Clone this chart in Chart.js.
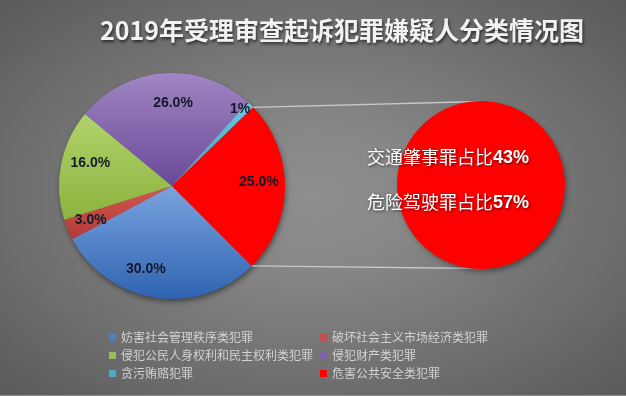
<!DOCTYPE html>
<html><head><meta charset="utf-8">
<script src="https://cdn.jsdelivr.net/npm/chart.js@4.4.1/dist/chart.umd.min.js"></script>
<style>
html,body{margin:0;padding:0;background:#5a5a5a;}
#wrap{position:relative;width:626px;height:396px;overflow:hidden;background:radial-gradient(ellipse farthest-corner at 50% 50%, #8e8e8e 0%, #878787 25%, #5a5a5a 100%);}
#bline{position:absolute;left:0;right:0;bottom:0;height:1px;background:#8c8c8c;}
canvas{position:absolute;left:0;top:0;}
#title{position:absolute;left:342px;top:11px;transform:translateX(-50%);white-space:nowrap;font:bold 25px "Noto Sans CJK SC";color:#f2f2f2;text-shadow:1px 2px 3px rgba(0,0,0,.6);}
.lb{position:absolute;width:7px;height:7px;}
.lt{position:absolute;font:12px "Noto Sans CJK SC";color:#d2d2d2;white-space:nowrap;line-height:14px;}
</style></head>
<body>
<div id="wrap">
  <canvas id="c1" width="626" height="396"></canvas>
  <canvas id="c2" width="626" height="396"></canvas>
  <div id="title"></div>
  <div id="legend"></div>
  <div id="bline"></div>
</div>
<script>
// ---- data ----
const titleText = '2019年受理审查起诉犯罪嫌疑人分类情况图';
const categories = ['妨害社会管理秩序类犯罪','破坏社会主义市场经济类犯罪','侵犯公民人身权利和民主权利类犯罪','侵犯财产类犯罪','贪污贿赂犯罪','危害公共安全类犯罪'];
const shares = [30, 3, 16, 26, 1, 25];
const shareLabels = ['30.0%','3.0%','16.0%','26.0%','1%','25.0%'];
const subCategories = ['交通肇事罪','危险驾驶罪'];
const subShares = [43, 57];
const subPrefix = '占比';

// ---- styles ----
const sliceTop    = ['#7aa4de','#d4574f','#b2d26c','#a086c4','#6ec8e1','#ff0000'];
const sliceBottom = ['#2f63b2','#b23a36','#8cb33e','#6a4897','#3aa2c3','#ff0000'];
const legendColors = ['#4f81bd','#c0504d','#9bbb59','#8064a2','#4bacc6','#ff0000'];
const labelShift = [9, 0, 4.5, 4.7, -2.7, -3];
const labelRadius = [0.77, 0.78, 0.75, 0.73, 0.91, 0.77];
const ROT = 135;

document.getElementById('title').textContent = titleText;

// legend (2 columns)
const lg = document.getElementById('legend');
const colX = [109, 320], rowY = [337, 355, 373];
categories.forEach((name, i) => {
  const col = i % 2, row = Math.floor(i / 2);
  const b = document.createElement('div'); b.className = 'lb';
  b.style.left = colX[col] + 'px'; b.style.top = (rowY[row] - 3.5) + 'px';
  b.style.background = legendColors[i];
  const t = document.createElement('div'); t.className = 'lt';
  t.style.left = (colX[col] + 12) + 'px'; t.style.top = (rowY[row] - 7.5) + 'px';
  t.textContent = name;
  lg.appendChild(b); lg.appendChild(t);
});

function sliceFill(c) {
  const chart = c.chart, a = chart.chartArea, i = c.dataIndex;
  if (!a) return sliceBottom[i];
  const cx = (a.left + a.right) / 2, cy = (a.top + a.bottom) / 2, r = Math.min(a.width, a.height) / 2;
  const data = chart.data.datasets[0].data;
  const total = data.reduce((s, v) => s + v, 0);
  let start = (ROT - 90) * Math.PI / 180;
  for (let k = 0; k < i; k++) start += data[k] / total * 2 * Math.PI;
  const end = start + data[i] / total * 2 * Math.PI;
  let minY = cy, maxY = cy;
  for (let t = 0; t <= 60; t++) {
    const ang = start + (end - start) * t / 60;
    const y = cy + r * Math.sin(ang);
    minY = Math.min(minY, y); maxY = Math.max(maxY, y);
  }
  if (maxY - minY < 1) maxY = minY + 1;
  const g = chart.ctx.createLinearGradient(0, minY, 0, maxY);
  g.addColorStop(0, sliceTop[i]); g.addColorStop(1, sliceBottom[i]);
  return g;
}

const pieShadow = {
  id: 'pieShadow',
  beforeDatasetsDraw(chart) {
    const arc = chart.getDatasetMeta(0).data[0];
    const ctx = chart.ctx;
    ctx.save();
    ctx.shadowColor = 'rgba(0,0,0,0.55)'; ctx.shadowBlur = 6; ctx.shadowOffsetY = 3; ctx.shadowOffsetX = 1;
    ctx.fillStyle = '#666';
    ctx.beginPath(); ctx.arc(arc.x, arc.y, arc.outerRadius - 1, 0, 2 * Math.PI); ctx.fill();
    ctx.restore();
  }
};
const pieLabels = {
  id: 'pieLabels',
  afterDatasetsDraw(chart) {
    const ctx = chart.ctx;
    const meta = chart.getDatasetMeta(0);
    ctx.save();
    ctx.font = 'bold 14px "Liberation Sans"';
    ctx.fillStyle = '#131a2a';
    ctx.textAlign = 'center'; ctx.textBaseline = 'middle';
    meta.data.forEach((arc, i) => {
      const mid = (arc.startAngle + arc.endAngle) / 2 + labelShift[i] * Math.PI / 180;
      const d = arc.outerRadius * labelRadius[i];
      ctx.fillText(shareLabels[i], arc.x + Math.cos(mid) * d, arc.y + Math.sin(mid) * d);
    });
    ctx.restore();
  }
};

const chart1 = new Chart(document.getElementById('c1'), {
  type: 'pie',
  data: { labels: categories, datasets: [{ data: shares, backgroundColor: sliceFill, borderWidth: 0 }] },
  options: {
    responsive: false, animation: false, rotation: ROT,
    layout: { padding: { left: 59, right: 341, top: 73, bottom: 97 } },
    plugins: { legend: { display: false }, tooltip: { enabled: false } },
    events: []
  },
  plugins: [pieShadow, pieLabels]
});

const subPie = {
  id: 'subPie',
  beforeDatasetsDraw(chart) {
    const ctx = chart.ctx;
    const arc = chart.getDatasetMeta(0).data[0];
    const src = chart1.getDatasetMeta(0).data[shares.length - 1];
    const p1 = [src.x + Math.cos(src.startAngle) * src.outerRadius, src.y + Math.sin(src.startAngle) * src.outerRadius];
    const p2 = [src.x + Math.cos(src.endAngle) * src.outerRadius, src.y + Math.sin(src.endAngle) * src.outerRadius];
    ctx.save();
    ctx.strokeStyle = '#c8c8c8'; ctx.lineWidth = 1.3;
    ctx.beginPath();
    ctx.moveTo(p1[0], p1[1]); ctx.lineTo(arc.x, arc.y - arc.outerRadius);
    ctx.moveTo(p2[0], p2[1]); ctx.lineTo(arc.x, arc.y + arc.outerRadius);
    ctx.stroke();
    ctx.shadowColor = 'rgba(0,0,0,0.5)'; ctx.shadowBlur = 6; ctx.shadowOffsetY = 3; ctx.shadowOffsetX = 2;
    ctx.fillStyle = '#ff0000';
    ctx.beginPath(); ctx.arc(arc.x, arc.y, arc.outerRadius - 1, 0, 2 * Math.PI); ctx.fill();
    ctx.restore();
  },
  afterDatasetsDraw(chart) {
    const ctx = chart.ctx;
    const arc = chart.getDatasetMeta(0).data[0];
    const cx = arc.x - 33;
    const ys = [arc.y - 28, arc.y + 17];
    ctx.save();
    ctx.textBaseline = 'middle'; ctx.textAlign = 'left';
    ctx.fillStyle = '#ffffff';
    ctx.shadowColor = 'rgba(0,0,0,0.6)'; ctx.shadowBlur = 3; ctx.shadowOffsetX = 1; ctx.shadowOffsetY = 1;
    subCategories.forEach((name, i) => {
      const a = name + subPrefix, b = subShares[i] + '%';
      const fa = '18px "Noto Sans CJK SC"', fb = 'bold 18px "Liberation Sans"';
      ctx.font = fa; const wa = ctx.measureText(a).width;
      ctx.font = fb; const wb = ctx.measureText(b).width;
      const x0 = cx - (wa + wb) / 2;
      ctx.font = fa; ctx.fillText(a, x0, ys[i]);
      ctx.font = fb; ctx.fillText(b, x0 + wa, ys[i] + 1);
    });
    ctx.restore();
  }
};

new Chart(document.getElementById('c2'), {
  type: 'pie',
  data: { labels: subCategories, datasets: [{ data: subShares, backgroundColor: '#ff0000', borderColor: '#ff0000', borderWidth: 1 }] },
  options: {
    responsive: false, animation: false,
    layout: { padding: { left: 397, right: 61, top: 101, bottom: 127 } },
    plugins: { legend: { display: false }, tooltip: { enabled: false } },
    events: []
  },
  plugins: [subPie]
});
</script>
</body></html>
